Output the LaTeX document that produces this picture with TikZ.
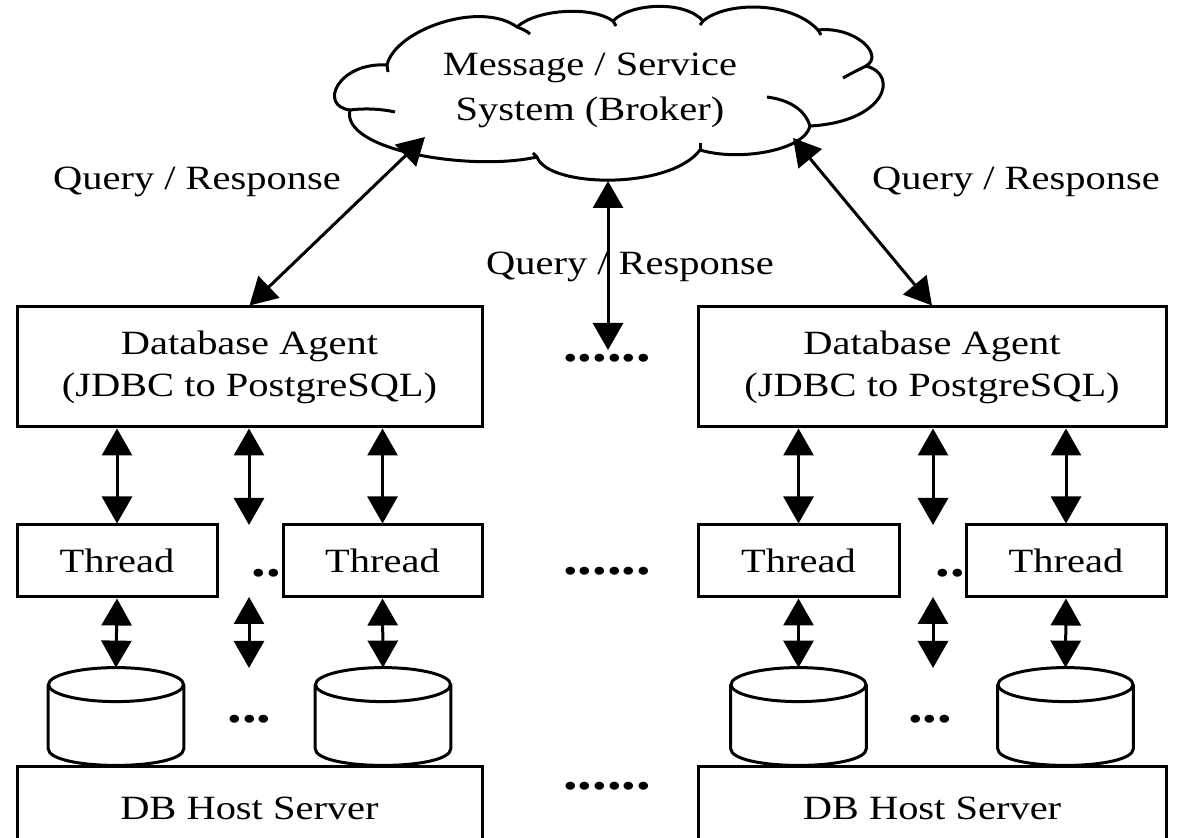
\documentclass[tikz,border=0pt]{standalone}
\usepackage{fontspec}
\setmainfont{Liberation Serif}[FakeStretch=1.19]
\usetikzlibrary{calc,arrows.meta}

% a standing database drum drawn inside the rectangle of node #1
\newcommand{\drawdb}[1]{%
  \draw[edge]
    ($(#1.north west)+(0,17)$) -- ($(#1.south west)+(0,-17)$)
    .. controls ($(#1.south west)+(0,5.7)$) and ($(#1.south east)+(0,5.7)$)
    .. ($(#1.south east)+(0,-17)$) -- ($(#1.north east)+(0,17)$);
  \draw[edge] ($(#1.north)+(0,17)$) ellipse [x radius=67.5, y radius=17];
}

\begin{document}
\begin{tikzpicture}[x=0.5pt,y=-0.5pt,
  every node/.style={font=\fontsize{17}{21}\selectfont},
  edge/.style={line width=1.5pt},
  box/.style={draw,line width=1.5pt,inner sep=0pt,align=center},
  agent/.style={box,minimum height=60pt},
  thread/.style={box,minimum height=36pt},
  host/.style={box,minimum height=41pt},
  db/.style={rectangle,inner sep=0pt,minimum width=67.5pt,minimum height=48.5pt},
  link/.style={line width=1.5pt,
               {Triangle[width=15pt,length=13.5pt]}-{Triangle[width=15pt,length=13.5pt]}},
  lbl/.style={inner sep=0pt,anchor=base},
  dots/.style={inner sep=0pt,anchor=base,font=\fontsize{24.5}{24.5}\selectfont\bfseries}]

\useasboundingbox (0,0) rectangle (1178,838);
\clip (0,0) rectangle (1178,838);

% ---- broker cloud ----
\draw[edge, line join=round]
  (350,110) .. controls (318,106) and (338,62) .. (387,65)
  .. controls (395,30) and (480,0) .. (517,27)
  .. controls (535,10) and (590,5) .. (613,21)
  .. controls (630,3) and (685,0) .. (703,21)
  .. controls (725,2) and (790,0) .. (818,30)
  .. controls (855,26) and (885,55) .. (866,66)
  .. controls (900,75) and (885,122) .. (810,126)
  .. controls (805,150) and (740,162) .. (700,150)
  .. controls (670,190) and (548,188) .. (537,157)
  .. controls (470,172) and (340,150) .. (350,110) -- cycle;
% creases of the cloud
\draw[edge] (350,110) .. controls (365,108) and (382,109) .. (395,112);
\draw[edge] (387,65) -- (388,72);
\draw[edge] (517,27) .. controls (522,29) and (527,31) .. (530,34);
\draw[edge] (613,21) -- (616,26);
\draw[edge] (703,21) -- (700,25);
\draw[edge] (818,30) -- (821,35);
\draw[edge] (866,66) .. controls (858,70) and (850,74) .. (843,78);
\draw[edge] (810,126) .. controls (805,110) and (790,100) .. (767,97);
\draw[edge] (700,150) -- (700,143);
\draw[edge] (537,157) -- (533,153);

\node[inner sep=0pt,align=center,font=\fontsize{17}{22.5}\selectfont] (broker) at (590,90)
  {Message / Service\\System (Broker)};
\coordinate (brkL) at (425,137);
\coordinate (brkR) at (793,138);
\coordinate (brkS) at (608,181);
\coordinate (midEnd) at (608,350);

% ---- database agents ----
\node[agent,minimum width=232.5pt] (agentL) at (249.5,367) {Database Agent\\(JDBC to PostgreSQL)};
\node[agent,minimum width=234pt]   (agentR) at (932,367)   {Database Agent\\(JDBC to PostgreSQL)};

% ---- threads ----
\node[thread,minimum width=100pt]  (thrL1) at (117,561)    {Thread};
\node[thread,minimum width=99.5pt] (thrL2) at (382.5,561)  {Thread};
\node[thread,minimum width=100.5pt](thrR1) at (798.5,561)  {Thread};
\node[thread,minimum width=100pt]  (thrR2) at (1066,561)   {Thread};

% ---- databases ----
\node[db] (cylL1) at (116,716.5) {};
\node[db] (cylL2) at (383,716.5) {};
\node[db] (cylR1) at (798.5,716.5) {};
\node[db] (cylR2) at (1065.5,716.5) {};
\drawdb{cylL1}
\drawdb{cylL2}
\drawdb{cylR1}
\drawdb{cylR2}

% ---- host servers ----
\node[host,minimum width=232.5pt] (hostL) at (249.5,808) {DB Host Server};
\node[host,minimum width=234pt]   (hostR) at (932,808)   {DB Host Server};

% ---- labels ----
\node[lbl] (qrL) at (197,190)  {Query / Response};
\node[lbl] (qrR) at (1016,190) {Query / Response};
\node[lbl] (qrM) at (630,275)  {Query / Response};

% ---- ellipses ----
\node[dots] (dotsTop)  at (607,362) {......};
\node[dots] (dotsThr)  at (607,575) {......};
\node[dots] (dotsHost) at (607,790) {......};
\node[dots] (dotsThrL) at (266,577) {..};
\node[dots] (dotsThrR) at (950,577) {..};
\node[dots] (dotsDbL)  at (249.5,723) {...};
\node[dots] (dotsDbR)  at (930,723) {...};

% ---- free ends of the unnamed branches ----
\coordinate (gapLa) at (249,525);
\coordinate (gapLb) at (249,597);
\coordinate (gapLc) at (249,668);
\coordinate (gapRa) at (933,525);
\coordinate (gapRb) at (933,597);
\coordinate (gapRc) at (933,668);

% ---- connectors ----
\draw[link] (agentL.north) -- (brkL);
\draw[link] (agentR.north) -- (brkR);
\draw[link] (brkS) -- (midEnd);

\draw[link] (thrL1.north |- agentL.south) -- (thrL1.north);
\draw[link] (gapLa |- agentL.south) -- (gapLa);
\draw[link] (thrL2.north |- agentL.south) -- (thrL2.north);
\draw[link] (thrR1.north |- agentR.south) -- (thrR1.north);
\draw[link] (gapRa |- agentR.south) -- (gapRa);
\draw[link] (thrR2.north |- agentR.south) -- (thrR2.north);

\draw[link] (thrL1.south) -- (cylL1.north);
\draw[link] (gapLb) -- (gapLc);
\draw[link] (thrL2.south) -- (cylL2.north);
\draw[link] (thrR1.south) -- (cylR1.north);
\draw[link] (gapRb) -- (gapRc);
\draw[link] (thrR2.south) -- (cylR2.north);
\end{tikzpicture}
\end{document}
